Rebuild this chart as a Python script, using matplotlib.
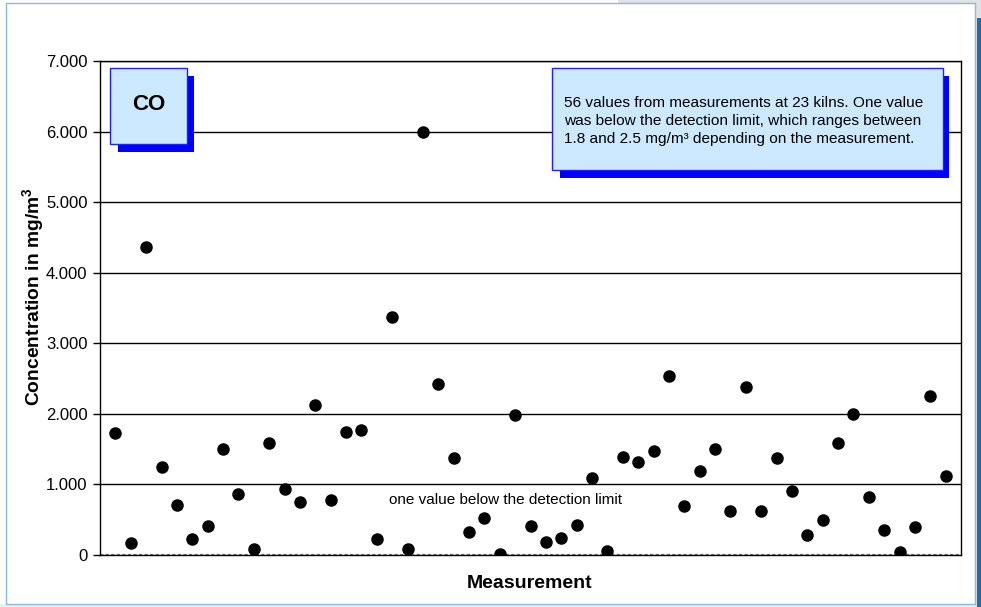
import numpy as np
import matplotlib
matplotlib.use("Agg")
import matplotlib.pyplot as plt
from matplotlib.patches import Rectangle
from matplotlib.ticker import FuncFormatter

plt.rcParams['font.family'] = ['Liberation Sans', 'DejaVu Sans']
plt.rcParams['mathtext.fontset'] = 'custom'
plt.rcParams['mathtext.rm'] = 'Liberation Sans'
plt.rcParams['mathtext.bf'] = 'Liberation Sans:bold'

# --- CO concentrations in mg/m3, one point per measurement (55 plotted) ---
concentration = [1.73, 0.17, 4.36, 1.24, 0.71, 0.22, 0.41, 1.50, 0.87, 0.08,
                 1.59, 0.93, 0.75, 2.12, 0.78, 1.75, 1.77, 0.22, 3.37, 0.08,
                 6.00, 2.42, 1.37, 0.33, 0.52, 0.01, 1.99, 0.41, 0.18, 0.24,
                 0.42, 1.09, 0.05, 1.39, 1.32, 1.48, 2.53, 0.69, 1.19, 1.50,
                 0.62, 2.38, 0.62, 1.37, 0.91, 0.28, 0.49, 1.59, 2.00, 0.82,
                 0.36, 0.04, 0.40, 2.26, 1.12]
measurement = np.arange(1, len(concentration) + 1)
y_ticks = [0, 1, 2, 3, 4, 5, 6, 7]

W, H = 981, 607
fig = plt.figure(figsize=(W / 100, H / 100), dpi=100)
fig.patch.set_facecolor('white')


def px(x, y):
    # pixel coords (from top-left) -> figure fraction
    return x / W, 1 - y / H


def fig_rect(x0, y0, x1, y1, **kw):
    fx, fy = px(x0, y1)
    r = Rectangle((fx, fy), (x1 - x0) / W, (y1 - y0) / H,
                  transform=fig.transFigure, **kw)
    fig.add_artist(r)
    return r


# frame of the screenshot around the chart
fig_rect(618, 0, 981, 3, facecolor='#e2e2e2', edgecolor='none')
fig_rect(975, 0, 981, 607, facecolor='#e2e2e2', edgecolor='none')
fig_rect(977, 18, 981, 607, facecolor='#1c6eae', edgecolor='none')
fig_rect(0, 604, 975, 607, facecolor='#e8f1fa', edgecolor='none')
fig_rect(6, 3, 975, 604, facecolor='none', edgecolor='#8ab8e0', linewidth=1)

ax = fig.add_axes([100 / W, 1 - 555 / H, 861 / W, 494 / H])
ax.set_facecolor('white')

for v in y_ticks[1:]:
    ax.axhline(v, color='black', linewidth=1, zorder=1)
ax.axhline(0, color='#777777', linewidth=1.6, linestyle=(0, (1.5, 1)), zorder=1)

ax.plot(measurement, concentration, 'o', color='black', markersize=8,
        linestyle='none', zorder=3)

ax.set_xlim(0, 56)
ax.set_ylim(0, 7)
ax.set_yticks(y_ticks)
ax.yaxis.set_major_formatter(FuncFormatter(lambda v, p: '0' if v == 0 else f'{v:.3f}'))
ax.set_xticks([])
ax.tick_params(axis='y', direction='out', length=5, width=1, pad=4,
               labelsize=12, colors='black')
for s in ax.spines.values():
    s.set_color('black')
    s.set_linewidth(1)

# labels
fig.text(*px(34, 297), r'Concentration in mg/m$^{\mathbf{3}}$', rotation=90,
         ha='center', va='center', fontsize=13.9, fontweight='bold')
fig.text(*px(530, 583), 'Measurement', ha='center', va='center',
         fontsize=14, fontweight='bold')

# annotation inside the plot
fig.text(*px(389, 500), 'one value below the detection limit', ha='left',
         va='center', fontsize=11)

# "CO" box with blue shadow
fig_rect(118, 76, 194, 152, facecolor='#0000ff', edgecolor='none', zorder=5)
fig_rect(110, 68, 187, 144, facecolor='#cce9ff', edgecolor='#2020ff',
         linewidth=1, zorder=6)
fig.text(*px(149, 105), 'CO', ha='center', va='center', fontsize=16,
         fontweight='bold', zorder=7)

# info box with blue shadow
fig_rect(560, 76, 949, 178, facecolor='#0000ff', edgecolor='none', zorder=5)
fig_rect(552, 68, 943, 170, facecolor='#cce9ff', edgecolor='#2020ff',
         linewidth=1, zorder=6)
fig.text(*px(564, 121),
         '56 values from measurements at 23 kilns. One value\n'
         'was below the detection limit, which ranges between\n'
         '1.8 and 2.5 mg/m³ depending on the measurement.',
         ha='left', va='center', fontsize=11.1, linespacing=1.35, zorder=7)

fig.savefig('out.png', dpi=100)
